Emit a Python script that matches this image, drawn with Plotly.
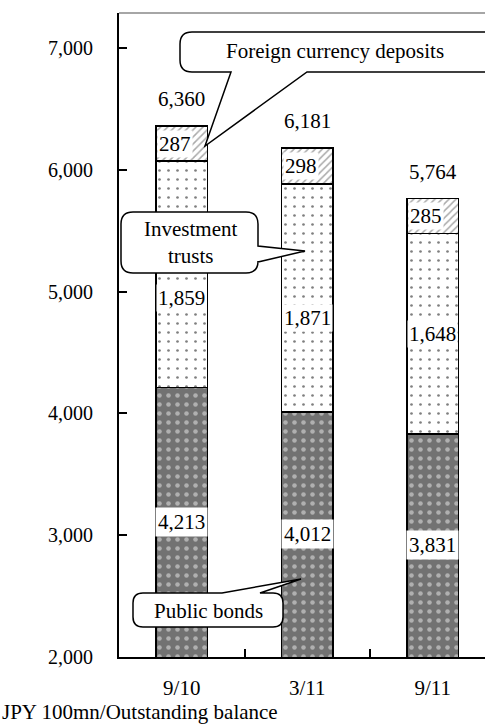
import plotly.graph_objects as go

# ---------------- data ----------------
categories = ["9/10", "3/11", "9/11"]
public_bonds = [4213, 4012, 3831]
investment_trusts = [1859, 1871, 1648]
foreign_deposits = [287, 298, 285]
totals = [6360, 6181, 5764]
y_ticks = [2000, 3000, 4000, 5000, 6000, 7000]
unit_label = "JPY 100mn/Outstanding balance"

# ---------------- layout geometry (pixels) ----------------
W, H = 485, 726
L, R_PX, T, B = 119, 485, 13, 657
PW, PH = R_PX - L, B - T
Y_MIN = 2000
PX_PER_UNIT = (B - 48) / 5000.0
Y_MAX = Y_MIN + PH / PX_PER_UNIT
CAT_PX = 125.5
X_MAX = -0.5 + PW / CAT_PX
BAR_W = 0.414
FONT = "Liberation Serif, Times New Roman, serif"
FS = 21
it_label_shift = [-195, -165, 0]


def pp(x, y):
    return (x - L) / PW, (B - y) / PH


def bubble(x0, y0, x1, y1, r, side, a, b, tip):
    pts = []
    def P(cmd, *xy):
        coords = []
        for i in range(0, len(xy), 2):
            px, py = pp(xy[i], xy[i + 1])
            coords.append(f"{px:.5f},{py:.5f}")
        pts.append(cmd + " " + " ".join(coords))
    P("M", x0 + r, y0)
    if side == "top":
        P("L", a, y0); P("L", *tip); P("L", b, y0)
    P("L", x1 - r, y0)
    P("Q", x1, y0, x1, y0 + r)
    if side == "right":
        P("L", x1, a); P("L", *tip); P("L", x1, b)
    P("L", x1, y1 - r)
    P("Q", x1, y1, x1 - r, y1)
    if side == "bottom":
        P("L", b, y1); P("L", *tip); P("L", a, y1)
    P("L", x0 + r, y1)
    P("Q", x0, y1, x0, y1 - r)
    P("L", x0, y0 + r)
    P("Q", x0, y0, x0 + r, y0)
    return " ".join(pts) + " Z"


fig = go.Figure()
line = dict(color="black", width=1.5)
fig.add_trace(go.Bar(
    x=categories, y=public_bonds, name="Public bonds", width=BAR_W,
    marker=dict(color="#727272", line=line,
                pattern=dict(shape=".", bgcolor="#727272", fgcolor="#eeeeee",
                             size=9, solidity=0.2)),
))
fig.add_trace(go.Bar(
    x=categories, y=investment_trusts, name="Investment trusts", width=BAR_W,
    marker=dict(color="white", line=line,
                pattern=dict(shape=".", bgcolor="white", fgcolor="black",
                             size=9, solidity=0.07)),
))
fig.add_trace(go.Bar(
    x=categories, y=foreign_deposits, name="Foreign currency deposits", width=BAR_W,
    marker=dict(color="white", line=line,
                pattern=dict(shape="/", bgcolor="white", fgcolor="#555555",
                             size=5, solidity=0.3)),
))

annotations = []
for i, c in enumerate(categories):
    pb = public_bonds[i]
    it = investment_trusts[i]
    fd = foreign_deposits[i]
    annotations.append(dict(x=c, y=(Y_MIN + pb) / 2, text=f"{pb:,}", showarrow=False,
                            bgcolor="white", borderpad=2,
                            font=dict(family=FONT, size=FS, color="black")))
    annotations.append(dict(x=c, y=pb + it / 2 + it_label_shift[i], text=f"{it:,}",
                            showarrow=False, bgcolor="white", borderpad=1,
                            font=dict(family=FONT, size=FS, color="black")))
    annotations.append(dict(x=i - BAR_W / 2 + 0.01, y=pb + it + fd / 2, text=f"{fd:,}",
                            xanchor="left", showarrow=False, bgcolor="white", borderpad=1,
                            font=dict(family=FONT, size=FS, color="black")))
    annotations.append(dict(x=c, y=totals[i], text=f"{totals[i]:,}", showarrow=False,
                            yanchor="bottom", yshift=13,
                            font=dict(family=FONT, size=FS, color="black")))

# callout texts
for txt, (cx, cy) in [("Foreign currency deposits", (335, 51)),
                      ("Investment<br>trusts", (190, 243)),
                      ("Public bonds", (208, 611))]:
    px, py = pp(cx, cy)
    annotations.append(dict(xref="paper", yref="paper", x=px, y=py, text=txt,
                            showarrow=False, xanchor="center", yanchor="middle",
                            font=dict(family=FONT, size=FS, color="black")))

ux, uy = pp(0, 712)
annotations.append(dict(xref="paper", yref="paper", x=ux, y=uy, text=unit_label,
                        showarrow=False, xanchor="left", yanchor="middle",
                        font=dict(family=FONT, size=FS, color="black")))

shapes = [
    dict(type="path", xref="paper", yref="paper",
         path=bubble(180, 32, 540, 72, 12, "bottom", 231, 307, (205, 146)),
         fillcolor="white", line=dict(color="black", width=1.5)),
    dict(type="path", xref="paper", yref="paper",
         path=bubble(121, 212, 258, 273, 12, "right", 246, 262, (305, 251)),
         fillcolor="white", line=dict(color="black", width=1.5)),
    dict(type="path", xref="paper", yref="paper",
         path=bubble(133, 593, 283, 627, 10, "top", 222, 260, (301, 579)),
         fillcolor="white", line=dict(color="black", width=1.5)),
    dict(type="line", xref="paper", yref="paper", x0=0, x1=1.05, y0=1, y1=1,
         line=dict(color="#a6a6a6", width=2)),
]

fig.update_layout(
    barmode="stack",
    width=W, height=H,
    margin=dict(l=L, r=W - R_PX, t=T, b=H - B),
    paper_bgcolor="white", plot_bgcolor="white",
    showlegend=False,
    font=dict(family=FONT, size=FS, color="black"),
    annotations=annotations,
    shapes=shapes,
    xaxis=dict(type="category", range=[-0.5, X_MAX], tickson="boundaries",
               ticks="inside", ticklen=8, tickwidth=1.5, tickcolor="black",
               showline=True, linecolor="black", linewidth=2,
               showgrid=False, ticklabelstandoff=11,
               tickfont=dict(family=FONT, size=FS, color="black")),
    yaxis=dict(range=[Y_MIN, Y_MAX], tickvals=y_ticks, tickformat=",",
               ticks="inside", ticklen=8, tickwidth=1.5, tickcolor="black",
               showline=True, linecolor="black", linewidth=2,
               showgrid=False, zeroline=False, ticklabelstandoff=20,
               tickfont=dict(family=FONT, size=20, color="black")),
)

fig.write_html(
    "out.html",
    config={"displayModeBar": False},
    post_script="document.body.style.margin='0';document.body.style.overflow='hidden';",
)
